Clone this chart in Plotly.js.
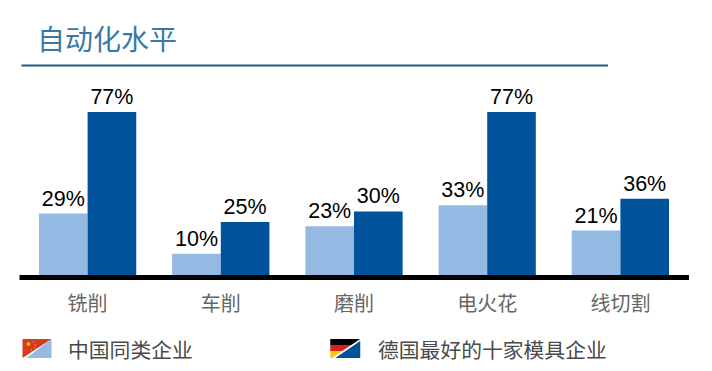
<!DOCTYPE html>
<html><head><meta charset="utf-8">
<script src="https://cdn.plot.ly/plotly-3.0.1.min.js"></script>
<style>html,body{margin:0;padding:0;background:#fff}#c{width:712px;height:371px}</style>
</head><body><div id="c"></div>
<script>
const categories = ['铣削','车削','磨削','电火花','线切割'];
const chinaValues = [29,10,23,33,21];
const germanyValues = [77,25,30,77,36];
const chinaName = '中国同类企业';
const germanyName = '德国最好的十家模具企业';
const chartTitle = '自动化水平';
const W = 712, H = 371;
const m = {l:20.5, r:25, t:112, b:96};
function tri(pts, fill){
  return {type:'path', xref:'paper', yref:'paper', layer:'above', line:{width:0}, fillcolor:fill,
    path:'M'+pts.map(p=>((p[0]-m.l)/(W-m.l-m.r))+','+((H-m.b-p[1])/(H-m.t-m.b))).join('L')+'Z'};
}
function seg(x0,y0,x1,y1,color,w){
  return {type:'line', xref:'paper', yref:'paper', layer:'above', line:{color:color,width:w},
    x0:(x0-m.l)/(W-m.l-m.r), x1:(x1-m.l)/(W-m.l-m.r),
    y0:(H-m.b-y0)/(H-m.t-m.b), y1:(H-m.b-y1)/(H-m.t-m.b)};
}
function label(x,y,text,size,color,family){
  return {xref:'paper', yref:'paper', xanchor:'left', yanchor:'middle', showarrow:false,
    x:(x-m.l)/(W-m.l-m.r), y:(H-m.b-y)/(H-m.t-m.b), text:text,
    font:{size:size,color:color,family:family}};
}
function star(cx,cy,r){
  return tri([[cx-r,cy],[cx,cy-r],[cx+r,cy],[cx,cy+r]],'#f2c522');
}
const cjk = '"Noto Sans CJK SC"';
const shapes = [
  seg(21,65.5,608,65.5,'#1f5a78',2),
  seg(19,277.5,689,277.5,'#000',5),
  tri([[22,339],[51,339],[22,358]],'#d43c20'),
  tri([[51,339],[51,358],[26,358]],'#94b9e3'),
  star(28,344,2.2), star(33,342,0.8), star(35,345,0.8), star(34,348,0.8), star(31,350,0.8),
  tri([[330,339],[360,339],[351,345],[330,345]],'#000'),
  tri([[330,345],[351,345],[342,351],[330,351]],'#d2261c'),
  tri([[330,351],[342,351],[332,358],[330,358]],'#f4c81e'),
  tri([[360,341],[360,358],[335,358]],'#00539b')
];
const textFont = {family:'"Liberation Sans"',size:21.5,color:'#000'};
const traces = [
 {type:'bar', name:chinaName, x:categories, y:chinaValues, marker:{color:'#94b9e3'},
  text:chinaValues.map(v=>v+'%'), textposition:'outside', cliponaxis:false, textfont:textFont},
 {type:'bar', name:germanyName, x:categories, y:germanyValues, marker:{color:'#00539b'},
  text:germanyValues.map(v=>v+'%'), textposition:'outside', cliponaxis:false, textfont:textFont}
];
const layout = {
  width:W, height:H, margin:m, paper_bgcolor:'#fff', plot_bgcolor:'#fff',
  barmode:'group', bargap:0.27, bargroupgap:0, showlegend:false,
  xaxis:{type:'category', showgrid:false, zeroline:false, showline:false, ticks:'',
    tickfont:{family:cjk,size:20,color:'#666'}, ticklabelstandoff:15, automargin:false},
  yaxis:{range:[0,77], showgrid:false, zeroline:false, showline:false, showticklabels:false, ticks:''},
  shapes:shapes,
  annotations:[
    label(35,38,chartTitle,28,'#3a78a8',cjk),
    label(66,348.5,chinaName,20.8,'#4a4a4a',cjk),
    label(376,348.5,germanyName,20.8,'#4a4a4a',cjk)
  ]
};
Plotly.newPlot('c',traces,layout,{displayModeBar:false,staticPlot:true});
</script></body></html>
